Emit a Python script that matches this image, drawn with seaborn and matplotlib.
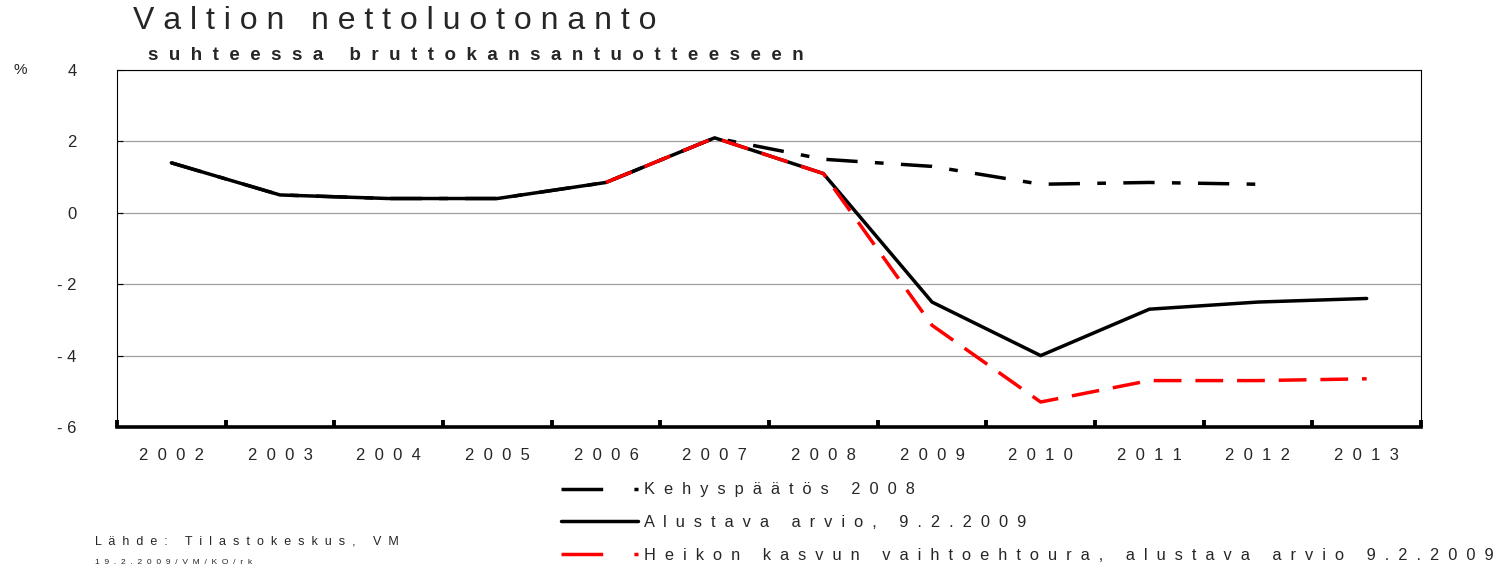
import matplotlib
matplotlib.use('Agg')
import matplotlib.pyplot as plt
from matplotlib.lines import Line2D
import numpy as np
import pandas as pd
import seaborn as sns

# Data
years = ['2002', '2003', '2004', '2005', '2006', '2007',
         '2008', '2009', '2010', '2011', '2012', '2013']
kehys = [1.4, 0.5, 0.4, 0.4, 0.85, 2.1, 1.5, 1.3, 0.8, 0.85, 0.8, np.nan]
alustava = [1.4, 0.5, 0.4, 0.4, 0.85, 2.1, 1.1, -2.5, -4.0, -2.7, -2.5, -2.4]
heikko = [np.nan, np.nan, np.nan, np.nan, 0.85, 2.1, 1.1, -3.15, -5.3, -4.7, -4.7, -4.65]
series_names = ['Kehyspäätös 2008', 'Alustava arvio, 9.2.2009',
                'Heikon kasvun vaihtoehtoura, alustava arvio 9.2.2009']
y_ticks = [-6, -4, -2, 0, 2, 4]


def spaced(s, gap=' '):
    """Fake letter spacing by putting a gap between characters"""
    return gap.join(s)


# Long table for seaborn
rows = []
for name, vals in zip(series_names, [kehys, alustava, heikko]):
    for i, v in enumerate(vals):
        if not np.isnan(v):
            rows.append({'pos': i, 'value': v, 'series': name})
df = pd.DataFrame(rows)

sns.set_style('white')
plt.rcParams['font.family'] = ['Liberation Sans', 'DejaVu Sans']

palette = {series_names[0]: 'black', series_names[1]: 'black', series_names[2]: '#ff0000'}
dash_map = {series_names[0]: (9, 5, 2.5, 5), series_names[1]: '', series_names[2]: (8, 4)}

fig = plt.figure(figsize=(15.12, 5.7), dpi=100)
ax = fig.add_axes([117 / 1512, 1 - 427 / 570, (1421 - 117) / 1512, (427 - 70) / 570])

sns.lineplot(data=df, x='pos', y='value', hue='series', style='series',
             hue_order=series_names, style_order=series_names,
             palette=palette, dashes=dash_map, linewidth=2.5,
             legend=False, ax=ax)

ax.set_xlim(-0.5, 11.5)
ax.set_ylim(-6, 4)
ax.set_xlabel('')
ax.set_ylabel('')

# y axis
ax.set_yticks(y_ticks)
ax.set_yticklabels([('- ' + str(abs(t))) if t < 0 else str(t) for t in y_ticks], fontsize=12)
ax.tick_params(axis='y', left=True, direction='in', length=4, width=0.8, color='black', pad=29)
ax.yaxis.grid(True, color='#a0a0a0', linewidth=0.9)
ax.set_axisbelow(True)

# x axis: ticks at category boundaries, labels at centres
ax.set_xticks(np.arange(-0.5, 12, 1))
ax.set_xticklabels([])
ax.tick_params(axis='x', which='major', bottom=True, direction='in', length=5, width=2.8,
               color='black')
ax.set_xticks(np.arange(12), minor=True)
ax.set_xticklabels([spaced(y, '  ') for y in years], minor=True, fontsize=12)
ax.tick_params(axis='x', which='minor', bottom=True, length=0, pad=15)

for side in ['top', 'right', 'left']:
    ax.spines[side].set_linewidth(0.8)
    ax.spines[side].set_color('black')
ax.spines['bottom'].set_linewidth(2.6)
ax.spines['bottom'].set_color('black')

# Titles and notes
fig.text(133 / 1512, 1 - 21 / 570, spaced('Valtion nettoluotonanto'), fontsize=23,
         va='center', ha='left')
fig.text(148 / 1512, 1 - 56 / 570, spaced('suhteessa bruttokansantuotteeseen', '  '),
         fontsize=13.5, fontweight='bold', va='center', ha='left')
fig.text(20 / 1512, 1 - 70 / 570, '%', fontsize=11, va='center', ha='center')
fig.text(95 / 1512, 1 - 541 / 570, spaced('Lähde: Tilastokeskus, VM', '  '),
         fontsize=9, va='center', ha='left')
fig.text(95 / 1512, 1 - 562 / 570, spaced('19.2.2009/VM/KO/rk', '  '),
         fontsize=6, va='center', ha='left')

# Legend
handles = [
    Line2D([], [], color='black', linewidth=2.5, dashes=(12, 9, 2.2, 20)),
    Line2D([], [], color='black', linewidth=2.5),
    Line2D([], [], color='#ff0000', linewidth=2.5, dashes=(12, 9, 2.2, 20)),
]
labels = [spaced(n, '  ') for n in series_names]
fig.legend(handles, labels, loc='center left', bbox_to_anchor=(561 / 1512, 1 - 522.5 / 570),
           frameon=False, fontsize=11.8, handlelength=4.7, handletextpad=0.35,
           labelspacing=1.08, borderpad=0, borderaxespad=0)

fig.savefig('out.png', dpi=100)
